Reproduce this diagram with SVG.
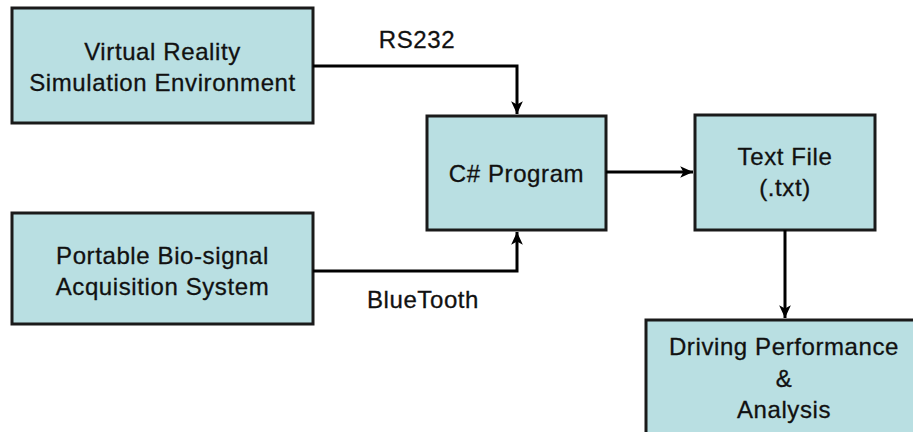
<svg xmlns="http://www.w3.org/2000/svg" width="913" height="432" viewBox="0 0 913 432">
  <style>
    .box { fill: #b9dfe2; stroke: #1a1a1a; stroke-width: 3; }
    .lbl { font-family: "Liberation Sans", Arial, sans-serif; font-size: 24px; fill: #111; stroke: #111; stroke-width: 0.3px; text-anchor: middle; letter-spacing: 0.6px; }
    .wire { fill: none; stroke: #000; stroke-width: 3; }
  </style>
  <defs>
    <marker id="head" markerUnits="userSpaceOnUse" markerWidth="16" markerHeight="16" viewBox="-14 -7 15 14" refX="0" refY="0" orient="auto">
      <path d="M0,0 L-12,-5.5 L-9,0 L-12,5.5 Z" fill="#000"/>
    </marker>
  </defs>
  <rect width="913" height="432" fill="#fff"/>

  <g id="vr-sim">
    <rect class="box" x="12" y="8" width="301" height="115"/>
    <text class="lbl" x="162.5" y="60">Virtual Reality</text>
    <text class="lbl" x="162.5" y="91">Simulation Environment</text>
  </g>

  <g id="bio-signal">
    <rect class="box" x="12" y="213" width="301" height="111"/>
    <text class="lbl" x="162.5" y="264">Portable Bio-signal</text>
    <text class="lbl" x="162.5" y="295">Acquisition System</text>
  </g>

  <g id="csharp">
    <rect class="box" x="427" y="116" width="179" height="114"/>
    <text class="lbl" x="516.5" y="182">C# Program</text>
  </g>

  <g id="text-file">
    <rect class="box" x="695" y="115" width="180" height="115"/>
    <text class="lbl" x="785" y="165">Text File</text>
    <text class="lbl" x="785" y="196">(.txt)</text>
  </g>

  <g id="analysis">
    <rect class="box" x="646" y="320" width="280" height="130"/>
    <text class="lbl" x="784" y="355">Driving Performance</text>
    <text class="lbl" x="784" y="387">&amp;</text>
    <text class="lbl" x="784" y="418">Analysis</text>
  </g>

  <g id="connectors">
    <polyline class="wire" points="313,66 517,66 517,114" marker-end="url(#head)"/>
    <polyline class="wire" points="313,271 517,271 517,232" marker-end="url(#head)"/>
    <line class="wire" x1="606" y1="172" x2="693" y2="172" marker-end="url(#head)"/>
    <line class="wire" x1="785" y1="230" x2="785" y2="318" marker-end="url(#head)"/>
    <text class="lbl" x="417" y="48">RS232</text>
    <text class="lbl" x="423" y="308">BlueTooth</text>
  </g>
</svg>
